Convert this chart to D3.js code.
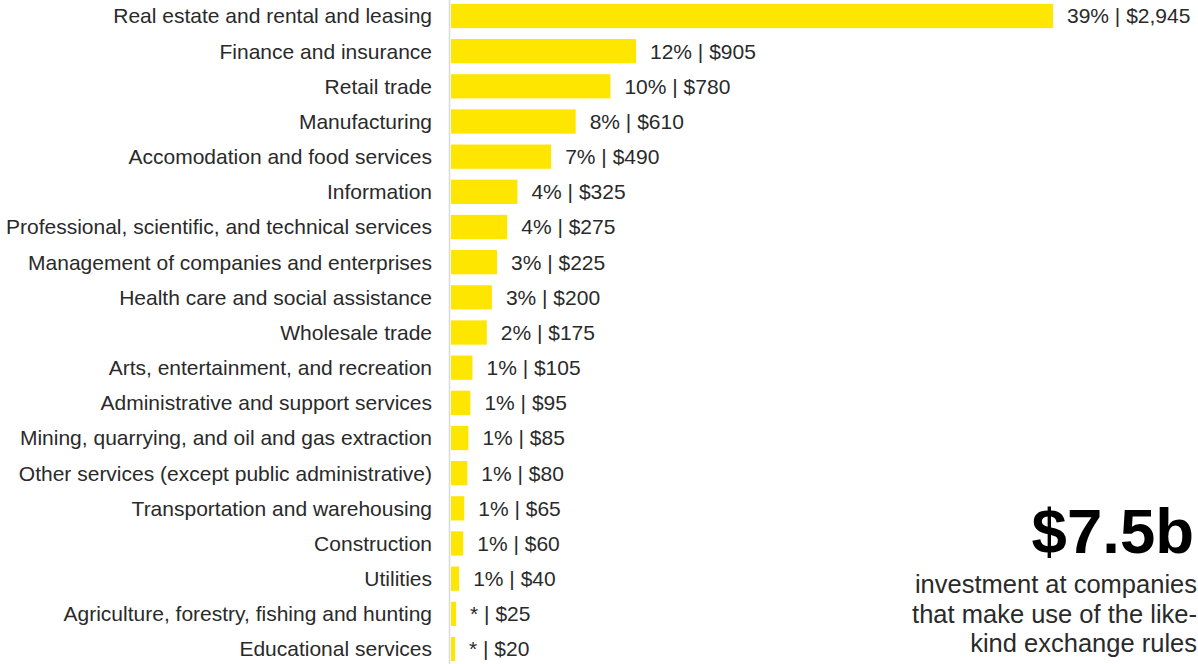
<!DOCTYPE html>
<html><head><meta charset="utf-8">
<script src="https://cdn.jsdelivr.net/npm/d3@7"></script>
<style>
html,body{margin:0;padding:0;background:#fff;}
svg{display:block;font-family:"Liberation Sans",Arial,sans-serif;}
</style></head>
<body>
<svg id="chart" width="1198" height="664"></svg>
<script>
const categories = [
  "Real estate and rental and leasing",
  "Finance and insurance",
  "Retail trade",
  "Manufacturing",
  "Accomodation and food services",
  "Information",
  "Professional, scientific, and technical services",
  "Management of companies and enterprises",
  "Health care and social assistance",
  "Wholesale trade",
  "Arts, entertainment, and recreation",
  "Administrative and support services",
  "Mining, quarrying, and oil and gas extraction",
  "Other services (except public administrative)",
  "Transportation and warehousing",
  "Construction",
  "Utilities",
  "Agriculture, forestry, fishing and hunting",
  "Educational services"
];
const values = [2945, 905, 780, 610, 490, 325, 275, 225, 200, 175, 105, 95, 85, 80, 65, 60, 40, 25, 20];
const shares = ["39%", "12%", "10%", "8%", "7%", "4%", "4%", "3%", "3%", "2%", "1%", "1%", "1%", "1%", "1%", "1%", "1%", "*", "*"];
const headline = "$7.5b";
const noteLines = ["investment at companies", "that make use of the like-", "kind exchange rules"];

const svg = d3.select("#chart");
const x0 = 451;
const x = d3.scaleLinear().domain([0, 2945]).range([x0, 1053]);
const y = d3.scaleBand().domain(categories).range([-1.6, 666.6]).paddingInner(0.31).paddingOuter(0.155);

// axis line
svg.append("line").attr("x1", 449.5).attr("x2", 449.5).attr("y1", 0).attr("y2", 664)
  .attr("stroke", "#d9d9d9").attr("stroke-width", 1.5);

svg.append("g").selectAll("rect").data(values).join("rect")
  .attr("x", x(0))
  .attr("y", (d, i) => y(categories[i]))
  .attr("width", d => x(d) - x(0))
  .attr("height", y.bandwidth())
  .attr("fill", "#ffe600");

svg.append("g").selectAll("text").data(categories).join("text")
  .attr("x", 432)
  .attr("y", d => y(d) + y.bandwidth() / 2)
  .attr("dy", "0.35em")
  .attr("text-anchor", "end")
  .attr("font-size", 21)
  .attr("fill", "#2a2a2a")
  .text(d => d);

svg.append("g").selectAll("text").data(values).join("text")
  .attr("x", d => x(d) + 14)
  .attr("y", (d, i) => y(categories[i]) + y.bandwidth() / 2)
  .attr("dy", "0.35em")
  .attr("font-size", 21)
  .attr("fill", "#2a2a2a")
  .text((d, i) => shares[i] + " | $" + d3.format(",")(d));

svg.append("text").attr("x", 1194).attr("y", 553).attr("text-anchor", "end")
  .attr("font-size", 63.5).attr("font-weight", "bold").attr("fill", "#000").text(headline);

svg.append("g").selectAll("text").data(noteLines).join("text")
  .attr("x", 1197).attr("y", (d, i) => 593 + i * 29.5).attr("text-anchor", "end")
  .attr("font-size", 25.5).attr("fill", "#2a2a2a").text(d => d);
</script>
</body></html>
